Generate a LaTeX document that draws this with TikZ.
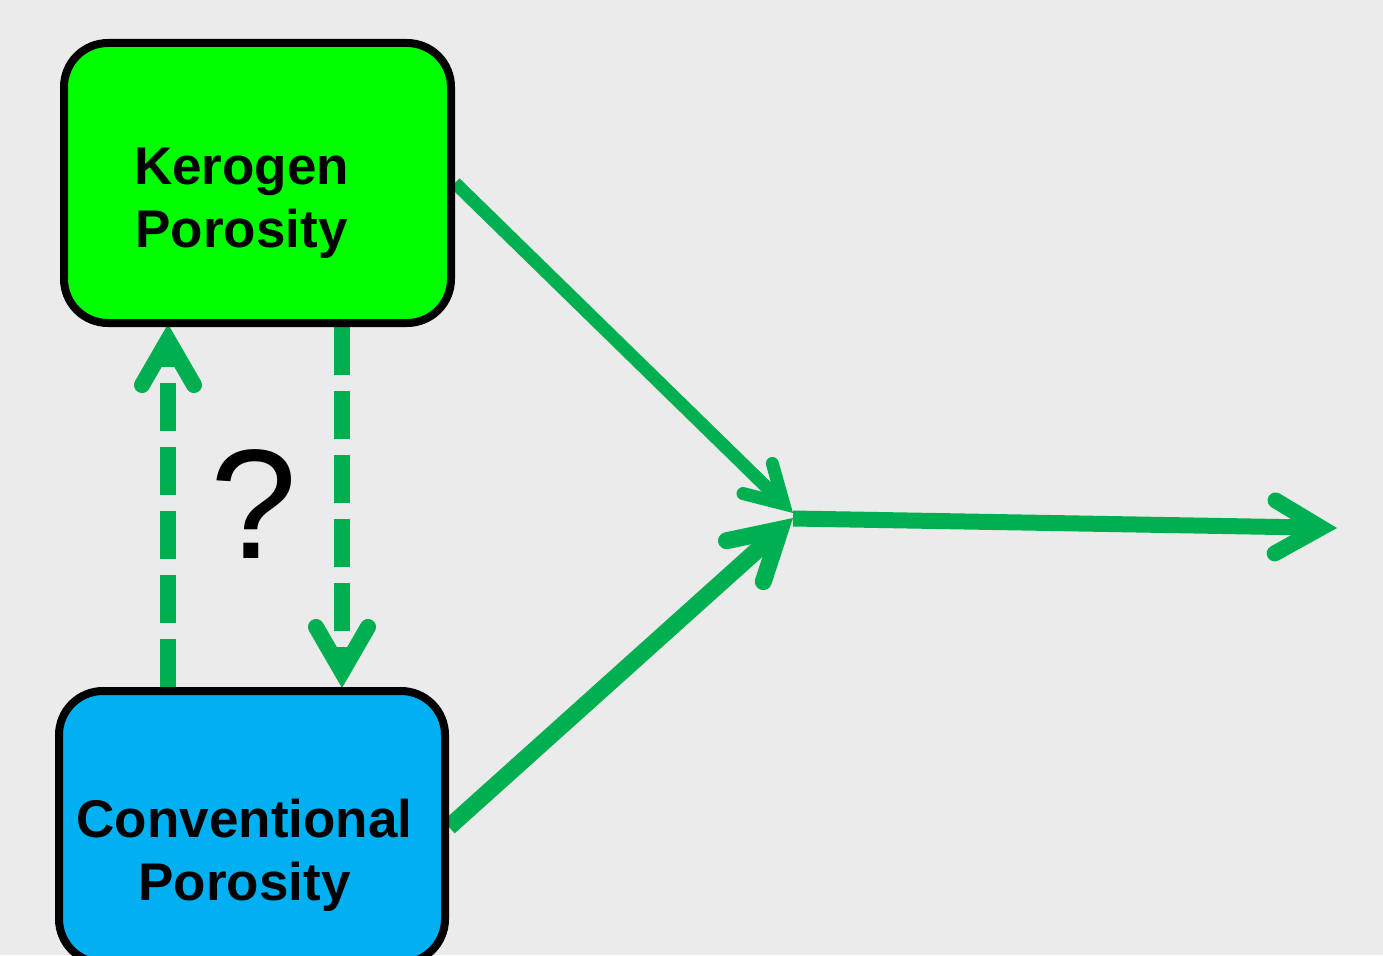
\documentclass[tikz,border=0pt]{standalone}
\usepackage{fontspec}
\setmainfont{Liberation Sans}
\usetikzlibrary{calc}
\definecolor{canvasgray}{HTML}{EBEBEB}
\definecolor{flowgreen}{HTML}{00B050}
\definecolor{kerogenfill}{HTML}{00FF00}
\definecolor{convfill}{HTML}{00B0F0}
\pgfdeclarelayer{back}
\pgfdeclarelayer{flow}
\pgfsetlayers{back,flow,main}

\begin{document}
\begin{tikzpicture}[x=1pt,y=-1pt,
  porebox/.style={draw=black, line width=8pt, rounded corners=44pt, inner sep=0pt},
  boxlabel/.style={font=\bfseries\fontsize{53}{63.5}\selectfont, inner sep=0pt, anchor=base},
  flowline/.style={draw=flowgreen, line cap=butt},
  dashflow/.style={flowline, line width=16pt, dash pattern=on 48pt off 16pt},
  barb/.style={draw=flowgreen, line cap=round, line join=miter, miter limit=10},
]
\useasboundingbox (0,0) rectangle (1383,955);
\begin{pgfonlayer}{back}
  \fill[canvasgray] (0,0) rectangle (1383,955);
\end{pgfonlayer}

\begin{scope}
\clip (0,0) rectangle (1383,955);

% the two porosity boxes
\node[porebox, fill=kerogenfill, minimum width=387pt, minimum height=280pt] (k) at (257.5,183) {};
\node[porebox, fill=convfill, minimum width=386pt, minimum height=272pt] (c) at (252,827) {};

\node[boxlabel] (klabel) at (241.5,184)
  {\begin{tabular}[t]{@{}c@{}}Kerogen\\Porosity\end{tabular}};
\node[boxlabel] (clabel) at (244.5,837)
  {\begin{tabular}[t]{@{}c@{}}Conventional\\Porosity\end{tabular}};
\node[font=\fontsize{156}{160}\selectfont, inner sep=0pt, anchor=base] (q) at (254,558) {?};

% arrow tips (outer points) and where the shafts meet
\coordinate (tipA) at (793,513);
\coordinate (tipB) at (793,518);
\coordinate (hub)  at (793,518.5);
\coordinate (tipO) at (1337,528);
\coordinate (tipL) at (168,324);
\coordinate (tipR) at (342,688);
\coordinate (srcL) at (c.north -| tipL);
\coordinate (srcR) at (k.south -| tipR);

\coordinate (jA) at ($(tipA)!13pt!(k.east)$);
\coordinate (jB) at ($(tipB)!17pt!(c.east)$);
\coordinate (jO) at ($(tipO)!16pt!(hub)$);
\coordinate (jL) at ($(tipL)!16pt!(srcL)$);
\coordinate (jR) at ($(tipR)!16pt!(srcR)$);
\end{scope}

\begin{pgfonlayer}{flow}
  % kerogen -> hub
  \draw[flowline, line width=13pt] (k.east) -- (jA);
  \draw[barb, line width=13pt] ($(jA)!42pt!30:(k.east)$) -- (jA) -- ($(jA)!42pt!-30:(k.east)$);
  % conventional -> hub
  \draw[flowline, line width=17pt] (c.east) -- (jB);
  \draw[barb, line width=17pt] ($(jB)!55pt!30:(c.east)$) -- (jB) -- ($(jB)!55pt!-30:(c.east)$);
  % hub -> output
  \draw[flowline, line width=16pt] (hub) -- (jO);
  \draw[barb, line width=16pt] ($(jO)!53pt!30:(hub)$) -- (jO) -- ($(jO)!53pt!-30:(hub)$);
  % dashed exchange between the two porosities
  \draw[dashflow] (srcL) -- (jL);
  \draw[barb, line width=16pt] ($(jL)!52pt!30:(srcL)$) -- (jL) -- ($(jL)!52pt!-30:(srcL)$);
  \draw[dashflow] (srcR) -- (jR);
  \draw[barb, line width=16pt] ($(jR)!52pt!30:(srcR)$) -- (jR) -- ($(jR)!52pt!-30:(srcR)$);
\end{pgfonlayer}
\end{tikzpicture}
\end{document}
